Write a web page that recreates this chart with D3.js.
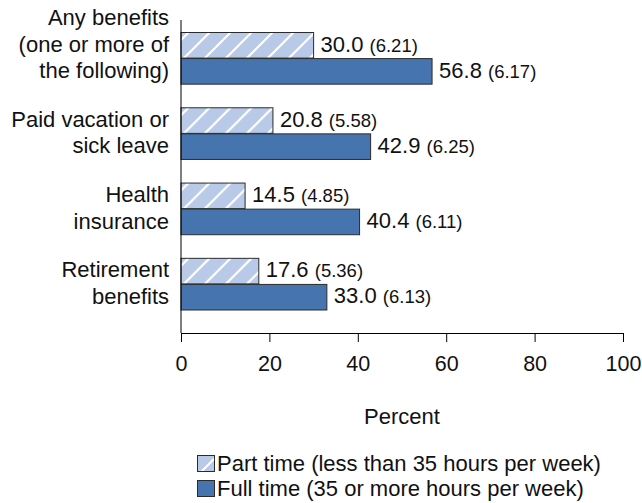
<!DOCTYPE html>
<html lang="en">
<head>
  <meta charset="utf-8">
  <title>Benefits by work schedule</title>
  <script src="https://d3js.org/d3.v7.min.js"></script>
  <style>
    body { margin: 0; background: #fff; }
    svg text { font-family: "Liberation Sans", Arial, sans-serif; fill: #111; }
  </style>
</head>
<body>
<div id="chart"></div>
<script>
// data
var categories = [
  ["Any benefits", "(one or more of", "the following)"],
  ["Paid vacation or", "sick leave"],
  ["Health", "insurance"],
  ["Retirement", "benefits"]
];
var seriesNames = ["Part time (less than 35 hours per week)", "Full time (35 or more hours per week)"];
var partTime = [30.0, 20.8, 14.5, 17.6];
var partTimeSE = ["6.21", "5.58", "4.85", "5.36"];
var fullTime = [56.8, 42.9, 40.4, 33.0];
var fullTimeSE = ["6.17", "6.25", "6.11", "6.13"];
var xTicks = [0, 20, 40, 60, 80, 100];

var width = 642, height = 503;
var lightBlue = "#b9cae8", darkBlue = "#4674ae", edge = "#2b2b2b";

var svg = d3.select("#chart").append("svg")
  .attr("width", width)
  .attr("height", height);

// hatch pattern for part time bars
var defs = svg.append("defs");
var pat = defs.append("pattern")
  .attr("id", "hatch")
  .attr("patternUnits", "userSpaceOnUse")
  .attr("width", 21).attr("height", 21);
pat.append("rect").attr("width", 21).attr("height", 21).attr("fill", lightBlue);
pat.append("path")
  .attr("d", "M-3,24 L24,-3 M-3,3 L3,-3 M18,24 L24,18")
  .attr("stroke", "#fff").attr("stroke-width", 2.2);

var x = d3.scaleLinear().domain([0, 100]).range([181, 623]);
var y = d3.scaleBand().domain(d3.range(categories.length)).range([32, 310]).paddingInner(0.307);
var inner = d3.scaleBand().domain([0, 1]).range([0, y.bandwidth()]);

var rows = categories.map(function(c, i) {
  return [
    { v: partTime[i], se: partTimeSE[i], s: 0 },
    { v: fullTime[i], se: fullTimeSE[i], s: 1 }
  ];
});

var groups = svg.selectAll("g.grp")
  .data(rows)
  .enter().append("g")
  .attr("class", "grp")
  .attr("transform", function(d, i) { return "translate(0," + y(i) + ")"; });

groups.selectAll("rect")
  .data(function(d) { return d; })
  .enter().append("rect")
  .attr("x", x(0))
  .attr("y", function(d) { return inner(d.s) + 0.5; })
  .attr("width", function(d) { return x(d.v) - x(0); })
  .attr("height", inner.bandwidth() - 0.5)
  .attr("fill", function(d) { return d.s === 0 ? "url(#hatch)" : darkBlue; })
  .attr("stroke", edge)
  .attr("stroke-width", 1);

var lbl = groups.selectAll("text.val")
  .data(function(d) { return d; })
  .enter().append("text")
  .attr("class", "val")
  .attr("x", function(d) { return x(d.v) + 7; })
  .attr("y", function(d) { return inner(d.s) + inner.bandwidth() / 2 + 6.5; });
lbl.append("tspan").style("font-size", "22px").text(function(d) { return d.v.toFixed(1) + " "; });
lbl.append("tspan").style("font-size", "18.5px").text(function(d) { return "(" + d.se + ")"; });

// category labels, bottom aligned to group centre
groups.each(function(lines, i) {
  var g = d3.select(this);
  var c = categories[i];
  var mid = y.bandwidth() / 2;
  c.forEach(function(line, k) {
    g.append("text")
      .attr("x", 169)
      .attr("y", mid + 20 - (c.length - 1 - k) * 26.5)
      .attr("text-anchor", "end")
      .style("font-size", "22px")
      .text(line);
  });
});

// axes
svg.append("line")
  .attr("x1", x(0)).attr("x2", x(0))
  .attr("y1", 20).attr("y2", 333)
  .attr("stroke", "#000").attr("stroke-width", 1);

var xAxis = svg.append("g")
  .attr("transform", "translate(0,333)")
  .call(d3.axisBottom(x).tickValues(xTicks).tickSize(9).tickPadding(14).tickSizeOuter(0));
xAxis.select(".domain").attr("stroke", "#000");
xAxis.selectAll(".tick line").attr("stroke", "#000");
xAxis.selectAll("text")
  .style("font-size", "21.5px")
  .style("font-family", "'Liberation Sans', Arial, sans-serif")
  .attr("fill", "#111");

svg.append("text")
  .attr("x", (x(0) + x(100)) / 2)
  .attr("y", 424)
  .attr("text-anchor", "middle")
  .style("font-size", "22px")
  .text("Percent");

// legend
var legend = svg.selectAll("g.leg")
  .data(seriesNames)
  .enter().append("g")
  .attr("class", "leg")
  .attr("transform", function(d, i) { return "translate(197," + (455 + i * 25) + ")"; });
legend.append("rect")
  .attr("x", 0.5).attr("y", 0.5)
  .attr("width", 17).attr("height", 16)
  .attr("fill", function(d, i) { return i === 0 ? "url(#hatch)" : darkBlue; })
  .attr("stroke", edge);
legend.append("text")
  .attr("x", 20)
  .attr("y", 16)
  .style("font-size", "22px")
  .text(function(d) { return d; });
</script>
</body>
</html>
